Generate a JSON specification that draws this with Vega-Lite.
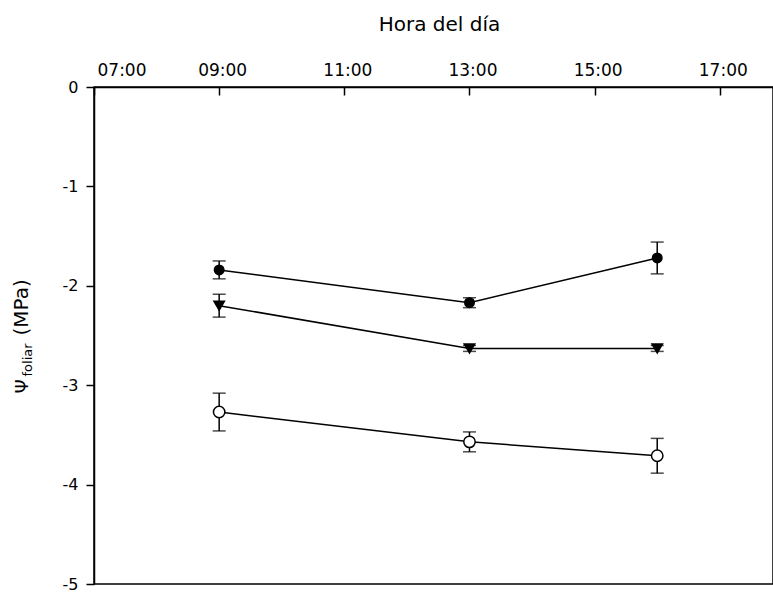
{
  "$schema": "https://vega.github.io/schema/vega-lite/v6.json",
  "width": 679,
  "height": 497,
  "autosize": {"type": "none"},
  "padding": {"left": 94, "top": 87, "right": 0, "bottom": 8},
  "background": "white",
  "config": {
    "view": {"stroke": "black", "strokeWidth": 1.5},
    "font": "DejaVu Sans",
    "axis": {
      "domainColor": "black", "domainWidth": 1.5, "tickColor": "black", "tickWidth": 1.5,
      "labelColor": "black", "titleColor": "black", "grid": false,
      "labelFont": "DejaVu Sans", "titleFont": "DejaVu Sans", "titleFontWeight": "normal"
    }
  },
  "data": {
    "values": [
      {"series": "A", "hour": 9, "mean": -1.84, "lo": -1.93, "hi": -1.75},
      {"series": "A", "hour": 13, "mean": -2.17, "lo": -2.22, "hi": -2.12},
      {"series": "A", "hour": 16, "mean": -1.72, "lo": -1.88, "hi": -1.56},
      {"series": "B", "hour": 9, "mean": -2.2, "lo": -2.315, "hi": -2.085},
      {"series": "B", "hour": 13, "mean": -2.63, "lo": -2.66, "hi": -2.6},
      {"series": "B", "hour": 16, "mean": -2.63, "lo": -2.66, "hi": -2.6},
      {"series": "C", "hour": 9, "mean": -3.27, "lo": -3.46, "hi": -3.08},
      {"series": "C", "hour": 13, "mean": -3.57, "lo": -3.67, "hi": -3.47},
      {"series": "C", "hour": 16, "mean": -3.71, "lo": -3.885, "hi": -3.535}
    ]
  },
  "encoding": {
    "x": {
      "field": "hour", "type": "quantitative",
      "scale": {"domain": [7, 17.85], "nice": false, "zero": false},
      "axis": {
        "orient": "top", "values": [7, 9, 11, 13, 15, 17],
        "labelExpr": "(datum.value < 10 ? '0' : '') + datum.value + ':00'",
        "labelFontSize": 17, "tickSize": -8, "labelPadding": 16, "labelOffset": 3,
        "title": "Hora del día", "titleFontSize": 20,
        "titleX": 345, "titleY": -57, "titleBaseline": "alphabetic", "titleAlign": "center"
      }
    }
  },
  "layer": [
    {
      "mark": {"type": "errorbar", "ticks": {"size": 13, "thickness": 1.5, "color": "black"}, "rule": {"strokeWidth": 1.5, "color": "black"}},
      "encoding": {
        "y": {
          "field": "lo", "type": "quantitative",
          "scale": {"domain": [-5, 0], "nice": false},
          "axis": {
            "orient": "left", "values": [-5, -4, -3, -2, -1, 0], "labelFontSize": 16,
            "labelExpr": "datum.value < 0 ? '-' + abs(datum.value) : '' + datum.value",
            "tickSize": 8, "labelPadding": 8,
            "title": "Ψ", "titleFontSize": 18, "titleAngle": -90,
            "titleX": -67, "titleY": 306, "titleAlign": "left", "titleBaseline": "alphabetic"
          }
        },
        "y2": {"field": "hi"}
      }
    },
    {
      "mark": {"type": "line", "color": "black", "strokeWidth": 1.5},
      "encoding": {
        "y": {
          "field": "mean", "type": "quantitative",
          "axis": {
            "orient": "left", "labels": false, "ticks": false, "domain": false,
            "title": "foliar", "titleFontSize": 13, "titleAngle": -90,
            "titleX": -63, "titleY": 289, "titleAlign": "left", "titleBaseline": "alphabetic"
          }
        },
        "detail": {"field": "series"}
      }
    },
    {
      "mark": {"type": "point", "stroke": "black", "strokeWidth": 1.5, "opacity": 1},
      "encoding": {
        "y": {
          "field": "mean", "type": "quantitative",
          "axis": {
            "orient": "left", "labels": false, "ticks": false, "domain": false,
            "title": "(MPa)", "titleFontSize": 20, "titleAngle": -90,
            "titleX": -67, "titleY": 248, "titleAlign": "left", "titleBaseline": "alphabetic"
          }
        },
        "shape": {"field": "series", "type": "nominal", "scale": {"domain": ["A", "B", "C"], "range": ["circle", "triangle-down", "circle"]}, "legend": null},
        "size": {"field": "series", "type": "nominal", "scale": {"domain": ["A", "B", "C"], "range": [90, 130, 90]}, "legend": null},
        "fill": {"field": "series", "type": "nominal", "scale": {"domain": ["A", "B", "C"], "range": ["black", "black", "white"]}, "legend": null}
      }
    }
  ],
  "resolve": {"axis": {"y": "independent"}}
}
